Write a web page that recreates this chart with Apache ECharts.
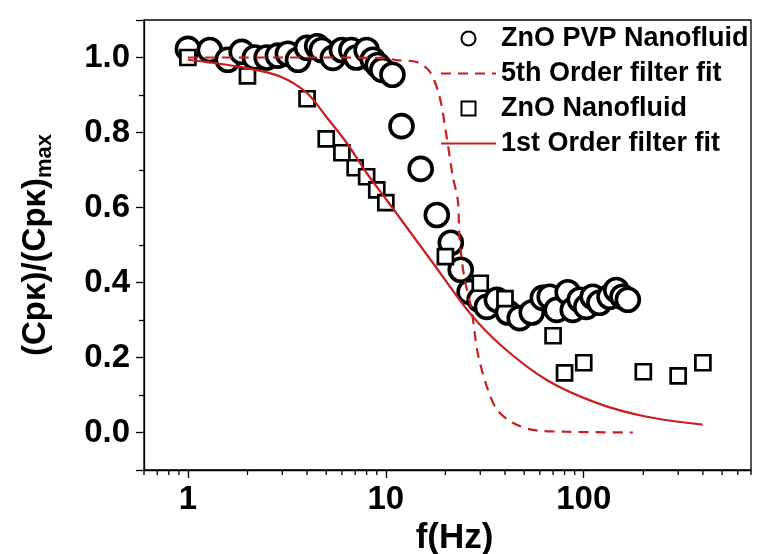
<!DOCTYPE html>
<html>
<head>
<meta charset="utf-8">
<script src="https://cdn.jsdelivr.net/npm/echarts@6/dist/echarts.min.js"></script>
<style>html,body{margin:0;padding:0;background:#fff}#c{width:766px;height:554px}</style>
</head>
<body>
<div id="c"></div>
<script>
// ZnO PVP Nanofluid (circles)
const pvpF = [1.0,1.29,1.59,1.87,2.18,2.5,2.85,3.2,3.6,4.0,4.5,4.75,5.4,6.0,6.7,7.1,8.0,8.6,9.1,9.6,10.8,12.0,15.0,18.1,21.3,23.9,26.5,29.8,32.4,36.4,41.4,47.5,54.6,62.1,67.3,73,83,88,95.5,103,111,120,135,146,157,167];
const pvpV = [1.023,1.02,0.994,1.015,1.0,1.0,1.005,1.01,0.994,1.026,1.03,1.02,0.999,1.02,1.02,1.0,1.02,0.994,0.98,0.967,0.954,0.817,0.703,0.58,0.506,0.434,0.375,0.354,0.335,0.354,0.32,0.305,0.32,0.359,0.362,0.327,0.374,0.327,0.354,0.335,0.362,0.346,0.362,0.38,0.362,0.354];
// ZnO Nanofluid (squares)
const znoF = [1,2,4,5,6,7,8,9,10,20,30,40,70,80,100,200,300,400];
const znoV = [1.0,0.951,0.89,0.783,0.746,0.706,0.682,0.647,0.613,0.469,0.398,0.357,0.258,0.159,0.186,0.162,0.151,0.186];
// 5th order filter fit (dashed)
const fit5F = [1,5,10,11.3,14.3,16.7,18.7,20.3,21.8,23.1,23.6,24.9,27.1,29.1,32.4,36.4,43.8,55,82,177];
const fit5V = [1.0,1.0,0.998,0.993,0.988,0.962,0.895,0.788,0.682,0.62,0.513,0.415,0.327,0.213,0.122,0.061,0.026,0.007,0.002,0.0];
// 1st order filter fit (solid)
const fit1F = [1,1.83,2.9,4,5,6.35,8,10.1,17.3,26.5,39,65,116,208,398];
const fit1V = [0.994,0.975,0.95,0.905,0.842,0.772,0.692,0.62,0.452,0.319,0.228,0.14,0.079,0.042,0.021];
// x-axis minor tick values
const minorX = [0.6,0.7,0.8,0.9,2,3,4,5,6,7,8,9,20,30,40,50,60,70,80,90,200,300,400,500,600,700];
const xMin = 0.6, xMax = 700, yMin = -0.1, yMax = 1.1;

const zip = (a, b) => a.map((v, i) => [v, b[i]]);
const FONT = '"Liberation Sans", Arial, sans-serif';
const RED = '#c81e1e';
const HIDE = {color: 'rgba(0,0,0,0)', borderWidth: 0, opacity: 0};

const chart = echarts.init(document.getElementById('c'), null, {renderer: 'canvas'});
chart.setOption({
  animation: false,
  backgroundColor: '#fff',
  grid: {left: 144, right: 15, top: 20, bottom: 84, outerBoundsMode: 'none', containLabel: false,
    show: true, borderColor: '#000', borderWidth: 1.3, backgroundColor: 'transparent'},
  xAxis: {
    type: 'log', logBase: 10, min: xMin, max: xMax,
    name: 'f(Hz)', nameLocation: 'middle', nameGap: 47,
    nameTextStyle: {fontFamily: FONT, fontWeight: 'bold', fontSize: 35, color: '#000', padding: [0, 0, 0, 14]},
    axisLine: {show: true, onZero: false, lineStyle: {color: '#000', width: 1.3}},
    axisTick: {show: true, inside: false, length: 8, lineStyle: {color: '#000', width: 1.3}},
    axisLabel: {fontFamily: FONT, fontWeight: 'bold', fontSize: 33, color: '#000', margin: 13, showMinLabel: false, showMaxLabel: false},
    splitLine: {show: false}
  },
  yAxis: {
    type: 'value', min: yMin, max: yMax, splitNumber: 6,
    name: '(Cpκ)/(Cpκ){sub|max}', nameLocation: 'middle', nameGap: 92, nameRotate: 90,
    nameTextStyle: {fontFamily: FONT, fontWeight: 'bold', fontSize: 33, color: '#000', lineHeight: 33,
      rich: {sub: {fontFamily: FONT, fontWeight: 'bold', fontSize: 22, color: '#000', lineHeight: 22, padding: [18, 0, 0, 0]}}},
    axisLine: {show: true, onZero: false, lineStyle: {color: '#000', width: 1.3}},
    axisTick: {show: true, inside: false, length: 8, lineStyle: {color: '#000', width: 1.3}},
    minorTick: {show: true, splitNumber: 2, length: 5, lineStyle: {color: '#000', width: 1.3}},
    axisLabel: {fontFamily: FONT, fontWeight: 'bold', fontSize: 33, color: '#000', margin: 14, showMinLabel: false, showMaxLabel: false,
      formatter: v => v.toFixed(1)},
    splitLine: {show: false}
  },
  legend: {
    orient: 'vertical', left: 440, top: 25, padding: 0, itemWidth: 55, itemHeight: 14, itemGap: 8,
    textStyle: {fontFamily: FONT, fontWeight: 'bold', fontSize: 27, color: '#000', lineHeight: 27},
    data: [
      {name: 'ZnO PVP Nanofluid', itemStyle: {borderWidth: 2}},
      {name: '5th Order filter fit', itemStyle: HIDE},
      {name: 'ZnO Nanofluid', icon: 'path://M0,0H10V10H0Z', itemStyle: {borderWidth: 2}},
      {name: '1st Order filter fit', itemStyle: HIDE}
    ]
  },
  series: [
    {name: 'ZnO PVP Nanofluid', type: 'scatter', data: zip(pvpF, pvpV), symbol: 'circle', symbolSize: 23, z: 2,
      itemStyle: {color: '#fff', borderColor: '#000', borderWidth: 3.6, opacity: 1}},
    {name: 'ZnO Nanofluid', type: 'scatter', data: zip(znoF, znoV), symbol: 'rect', symbolSize: 15, z: 3,
      itemStyle: {color: '#fff', borderColor: '#000', borderWidth: 2.7, opacity: 1}},
    {name: '5th Order filter fit', type: 'line', data: zip(fit5F, fit5V), symbol: 'none', showSymbol: false, smooth: 0.3, z: 4,
      lineStyle: {color: RED, width: 2.2, type: [10, 7]}, itemStyle: {color: RED}},
    {name: '1st Order filter fit', type: 'line', data: zip(fit1F, fit1V), symbol: 'none', showSymbol: false, smooth: 0.3, z: 4,
      lineStyle: {color: RED, width: 2.2}, itemStyle: {color: RED}},
    {type: 'custom', silent: true, clip: false, z: 5, data: minorX.map(v => [v, yMin]),
      renderItem: (params, api) => {
        const p = api.coord([api.value(0), api.value(1)]);
        return {type: 'line', shape: {x1: p[0], y1: p[1], x2: p[0], y2: p[1] + 5}, style: {stroke: '#000', lineWidth: 1.3}};
      }}
  ]
});
</script>
</body>
</html>
